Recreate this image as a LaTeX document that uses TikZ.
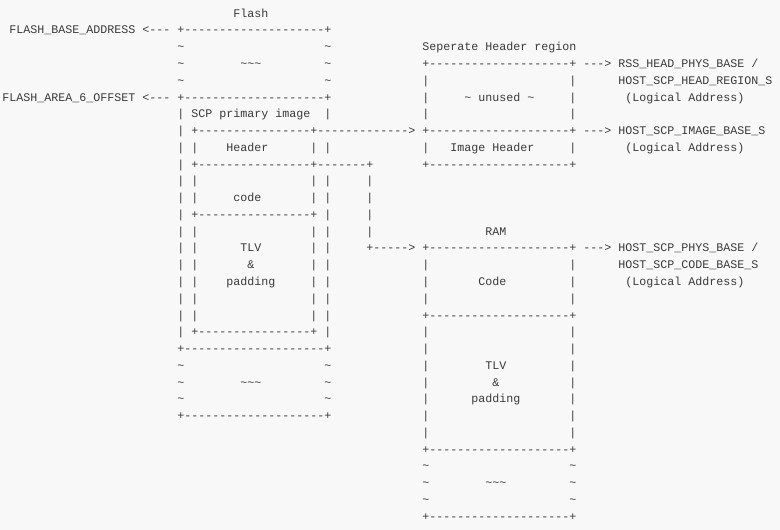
\documentclass[tikz,border=0pt]{standalone}
\usepackage{fontspec}
\setmonofont{Liberation Mono}
\definecolor{bgc}{HTML}{F8F8F8}
\definecolor{inkc}{HTML}{3A3A3A}
\newcommand\tld{\textasciitilde}
\newcommand\Dten{----------}
\newcommand\Dsix{------}
\newcommand\Dthree{---}
\tikzset{txt/.style={inner sep=0pt, outer sep=0pt, anchor=base west,
  font=\ttfamily\fontsize{11.67}{14}\selectfont, text=inkc}}
\newcommand\seg[4]{\node[txt] (#1) at ({(2.3+7*#2)*1pt},{-(17.2+16.77*#3)*1pt}) {#4};}
\begin{document}
\begin{tikzpicture}
\fill[bgc] (0,0) rectangle (780pt,-530pt);
\useasboundingbox (0,0) rectangle (780pt,-530pt);
% line 0
\seg{flash}{33}{0}{Flash}
% line 1
\seg{fba}{1}{1}{FLASH\_BASE\_ADDRESS <--- +\Dten\Dten+}
% line 2
\seg{la2}{25}{2}{\tld}\seg{lb2}{46}{2}{\tld}
\seg{shr}{60}{2}{Seperate Header region}
% line 3
\seg{la3}{25}{3}{\tld}\seg{lm3}{34}{3}{\tld\tld\tld}\seg{lb3}{46}{3}{\tld}
\seg{rss}{60}{3}{+\Dten\Dten+ ---> RSS\_HEAD\_PHYS\_BASE /}
% line 4
\seg{la4}{25}{4}{\tld}\seg{lb4}{46}{4}{\tld}
\seg{ra4}{60}{4}{|}\seg{rb4}{81}{4}{|}
\seg{hreg}{88}{4}{HOST\_SCP\_HEAD\_REGION\_S}
% line 5
\seg{fa6}{0}{5}{FLASH\_AREA\_6\_OFFSET <--- +\Dten\Dten+}
\seg{ra5}{60}{5}{|}\seg{unused}{66}{5}{\tld{} unused \tld}\seg{rb5}{81}{5}{|}
\seg{log1}{89}{5}{(Logical Address)}
% line 6
\seg{scp}{25}{6}{| SCP primary image}\seg{lb6}{46}{6}{|}
\seg{ra6}{60}{6}{|}\seg{rb6}{81}{6}{|}
% line 7
\seg{l7}{25}{7}{| +\Dten\Dsix+\Dten\Dthree> +\Dten\Dten+ ---> HOST\_SCP\_IMAGE\_BASE\_S}
% line 8
\seg{la8}{25}{8}{| |}\seg{hdr}{32}{8}{Header}\seg{lb8}{44}{8}{| |}
\seg{ra8}{60}{8}{|}\seg{imh}{64}{8}{Image Header}\seg{rb8}{81}{8}{|}
\seg{log2}{89}{8}{(Logical Address)}
% line 9
\seg{l9}{25}{9}{| +\Dten\Dsix+\Dsix-+}
\seg{r9}{60}{9}{+\Dten\Dten+}
% line 10
\seg{la10}{25}{10}{| |}\seg{lb10}{44}{10}{| |}\seg{lc10}{52}{10}{|}
% line 11
\seg{la11}{25}{11}{| |}\seg{code}{33}{11}{code}\seg{lb11}{44}{11}{| |}\seg{lc11}{52}{11}{|}
% line 12
\seg{l12}{25}{12}{| +\Dten\Dsix+ |}\seg{lc12}{52}{12}{|}
% line 13
\seg{la13}{25}{13}{| |}\seg{lb13}{44}{13}{| |}\seg{lc13}{52}{13}{|}
\seg{ram}{69}{13}{RAM}
% line 14
\seg{la14}{25}{14}{| |}\seg{tlv1}{34}{14}{TLV}\seg{lb14}{44}{14}{| |}
\seg{r14}{52}{14}{+-----> +\Dten\Dten+ ---> HOST\_SCP\_PHYS\_BASE /}
% line 15
\seg{la15}{25}{15}{| |}\seg{amp1}{35}{15}{\&}\seg{lb15}{44}{15}{| |}
\seg{ra15}{60}{15}{|}\seg{rb15}{81}{15}{|}
\seg{hcode}{88}{15}{HOST\_SCP\_CODE\_BASE\_S}
% line 16
\seg{la16}{25}{16}{| |}\seg{pad1}{32}{16}{padding}\seg{lb16}{44}{16}{| |}
\seg{ra16}{60}{16}{|}\seg{rcode}{68}{16}{Code}\seg{rb16}{81}{16}{|}
\seg{log3}{89}{16}{(Logical Address)}
% line 17
\seg{la17}{25}{17}{| |}\seg{lb17}{44}{17}{| |}
\seg{ra17}{60}{17}{|}\seg{rb17}{81}{17}{|}
% line 18
\seg{la18}{25}{18}{| |}\seg{lb18}{44}{18}{| |}
\seg{r18}{60}{18}{+\Dten\Dten+}
% line 19
\seg{l19}{25}{19}{| +\Dten\Dsix+ |}
\seg{ra19}{60}{19}{|}\seg{rb19}{81}{19}{|}
% line 20
\seg{l20}{25}{20}{+\Dten\Dten+}
\seg{ra20}{60}{20}{|}\seg{rb20}{81}{20}{|}
% line 21
\seg{la21}{25}{21}{\tld}\seg{lb21}{46}{21}{\tld}
\seg{ra21}{60}{21}{|}\seg{tlv2}{69}{21}{TLV}\seg{rb21}{81}{21}{|}
% line 22
\seg{la22}{25}{22}{\tld}\seg{lm22}{34}{22}{\tld\tld\tld}\seg{lb22}{46}{22}{\tld}
\seg{ra22}{60}{22}{|}\seg{amp2}{70}{22}{\&}\seg{rb22}{81}{22}{|}
% line 23
\seg{la23}{25}{23}{\tld}\seg{lb23}{46}{23}{\tld}
\seg{ra23}{60}{23}{|}\seg{pad2}{67}{23}{padding}\seg{rb23}{81}{23}{|}
% line 24
\seg{l24}{25}{24}{+\Dten\Dten+}
\seg{ra24}{60}{24}{|}\seg{rb24}{81}{24}{|}
% line 25
\seg{ra25}{60}{25}{|}\seg{rb25}{81}{25}{|}
% line 26
\seg{r26}{60}{26}{+\Dten\Dten+}
% line 27
\seg{ra27}{60}{27}{\tld}\seg{rb27}{81}{27}{\tld}
% line 28
\seg{ra28}{60}{28}{\tld}\seg{rm28}{69}{28}{\tld\tld\tld}\seg{rb28}{81}{28}{\tld}
% line 29
\seg{ra29}{60}{29}{\tld}\seg{rb29}{81}{29}{\tld}
% line 30
\seg{r30}{60}{30}{+\Dten\Dten+}
\end{tikzpicture}
\end{document}
